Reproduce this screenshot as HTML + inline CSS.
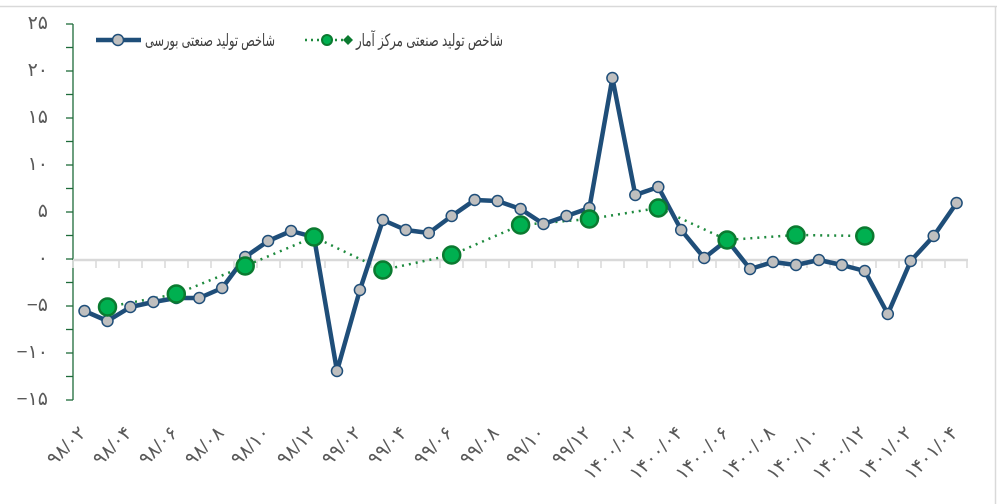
<!DOCTYPE html>
<html><head><meta charset="utf-8"><style>
html,body{margin:0;padding:0;background:#fff;}
svg{display:block;font-family:"Liberation Sans","DejaVu Sans",sans-serif;}
</style></head><body>
<svg width="997" height="504" viewBox="0 0 997 504" xmlns="http://www.w3.org/2000/svg">
<line x1="0" y1="6.5" x2="997" y2="6.5" stroke="#d9d9d9" stroke-width="1.5"/>
<line x1="995.5" y1="6" x2="995.5" y2="504" stroke="#d9d9d9" stroke-width="1.5"/>
<g stroke="#1e6b3a" stroke-width="1.3">
<line x1="73" y1="24" x2="73" y2="400"/>
<line x1="66" y1="24" x2="73" y2="24"/><line x1="66" y1="47.5" x2="73" y2="47.5"/>
<line x1="66" y1="71" x2="73" y2="71"/><line x1="66" y1="94.5" x2="73" y2="94.5"/>
<line x1="66" y1="118" x2="73" y2="118"/><line x1="66" y1="141.5" x2="73" y2="141.5"/>
<line x1="66" y1="165" x2="73" y2="165"/><line x1="66" y1="188.5" x2="73" y2="188.5"/>
<line x1="66" y1="212" x2="73" y2="212"/><line x1="66" y1="235.5" x2="73" y2="235.5"/>
<line x1="66" y1="259" x2="73" y2="259"/><line x1="66" y1="282.5" x2="73" y2="282.5"/>
<line x1="66" y1="306" x2="73" y2="306"/><line x1="66" y1="329.5" x2="73" y2="329.5"/>
<line x1="66" y1="353" x2="73" y2="353"/><line x1="66" y1="376.5" x2="73" y2="376.5"/>
<line x1="66" y1="400" x2="73" y2="400"/>
</g>
<g fill="#595959" font-size="19" text-anchor="end">
<text x="48" y="29">۲۵</text><text x="48" y="76">۲۰</text><text x="48" y="123">۱۵</text>
<text x="48" y="170">۱۰</text><text x="48" y="217">۵</text><text x="48" y="264">۰</text>
<text x="48" y="311">−۵</text><text x="48" y="358">−۱۰</text><text x="48" y="405">−۱۵</text>
</g>
<line x1="73" y1="260" x2="968" y2="260" stroke="#d9d9d9" stroke-width="2.5"/>
<g stroke="#d9d9d9" stroke-width="1.5">
<path d="M73 260v8M96 260v8M119 260v8M142 260v8M165 260v8M188 260v8M211 260v8M234 260v8M257 260v8M280 260v8M302 260v8M325 260v8M348 260v8M371 260v8M394 260v8M417 260v8M440 260v8M463 260v8M486 260v8M509 260v8M532 260v8M555 260v8M578 260v8M601 260v8M624 260v8M647 260v8M670 260v8M693 260v8M716 260v8M739 260v8M761 260v8M784 260v8M807 260v8M830 260v8M853 260v8M876 260v8M899 260v8M922 260v8M945 260v8M967 260v8"/>
</g>
<polyline fill="none" stroke="#1e8a3e" stroke-width="2.5" stroke-dasharray="2,5" points="107.5,307 176.3,294 245.2,266 314,237 382.9,270 451.7,255 520.6,225 589.4,219 658.3,208 727.1,240 796,235 864.8,236"/>
<polyline fill="none" stroke="#1f4e79" stroke-width="4.5" stroke-linejoin="round" points="84.5,311 107.5,321 130.4,307 153.4,302 176.3,298 199.3,298 222.2,288 245.2,257 268.1,241 291.1,231 314,237 337,371 359.9,290 382.9,220 405.8,230 428.8,233 451.7,216 474.7,200 497.6,201 520.6,209 543.5,224 566.5,216 589.4,208 612.4,78 635.3,195 658.3,187 681.2,230 704.2,258 727.1,240 750.1,269 773,262 796,265 818.9,260 841.9,265 864.8,271 887.8,314 910.7,261 933.7,236 956.6,203"/>
<g fill="#bfbfbf" stroke="#1f4e79" stroke-width="1.5">
<circle cx="84.5" cy="311" r="5.5"/><circle cx="107.5" cy="321" r="5.5"/><circle cx="130.4" cy="307" r="5.5"/><circle cx="153.4" cy="302" r="5.5"/><circle cx="176.3" cy="298" r="5.5"/><circle cx="199.3" cy="298" r="5.5"/><circle cx="222.2" cy="288" r="5.5"/><circle cx="245.2" cy="257" r="5.5"/><circle cx="268.1" cy="241" r="5.5"/><circle cx="291.1" cy="231" r="5.5"/><circle cx="314" cy="237" r="5.5"/><circle cx="337" cy="371" r="5.5"/><circle cx="359.9" cy="290" r="5.5"/><circle cx="382.9" cy="220" r="5.5"/><circle cx="405.8" cy="230" r="5.5"/><circle cx="428.8" cy="233" r="5.5"/><circle cx="451.7" cy="216" r="5.5"/><circle cx="474.7" cy="200" r="5.5"/><circle cx="497.6" cy="201" r="5.5"/><circle cx="520.6" cy="209" r="5.5"/><circle cx="543.5" cy="224" r="5.5"/><circle cx="566.5" cy="216" r="5.5"/><circle cx="589.4" cy="208" r="5.5"/><circle cx="612.4" cy="78" r="5.5"/><circle cx="635.3" cy="195" r="5.5"/><circle cx="658.3" cy="187" r="5.5"/><circle cx="681.2" cy="230" r="5.5"/><circle cx="704.2" cy="258" r="5.5"/><circle cx="727.1" cy="240" r="5.5"/><circle cx="750.1" cy="269" r="5.5"/><circle cx="773" cy="262" r="5.5"/><circle cx="796" cy="265" r="5.5"/><circle cx="818.9" cy="260" r="5.5"/><circle cx="841.9" cy="265" r="5.5"/><circle cx="864.8" cy="271" r="5.5"/><circle cx="887.8" cy="314" r="5.5"/><circle cx="910.7" cy="261" r="5.5"/><circle cx="933.7" cy="236" r="5.5"/><circle cx="956.6" cy="203" r="5.5"/>
</g>
<g fill="#00b050" stroke="#0b7a30" stroke-width="2.5">
<circle cx="107.5" cy="307" r="8.5"/><circle cx="176.3" cy="294" r="8.5"/><circle cx="245.2" cy="266" r="8.5"/><circle cx="314" cy="237" r="8.5"/><circle cx="382.9" cy="270" r="8.5"/><circle cx="451.7" cy="255" r="8.5"/><circle cx="520.6" cy="225" r="8.5"/><circle cx="589.4" cy="219" r="8.5"/><circle cx="658.3" cy="208" r="8.5"/><circle cx="727.1" cy="240" r="8.5"/><circle cx="796" cy="235" r="8.5"/><circle cx="864.8" cy="236" r="8.5"/>
</g>
<line x1="96" y1="40" x2="141" y2="40" stroke="#1f4e79" stroke-width="4.5"/>
<circle cx="118" cy="40" r="5.5" fill="#bfbfbf" stroke="#1f4e79" stroke-width="1.5"/>
<text x="145" y="46" font-size="17" fill="#404040" textLength="130" lengthAdjust="spacingAndGlyphs">شاخص تولید صنعتی بورسی</text>
<line x1="305" y1="40" x2="352" y2="40" stroke="#1e8a3e" stroke-width="2.5" stroke-dasharray="2,4"/>
<circle cx="327" cy="40" r="5" fill="#00b050" stroke="#0b7a30" stroke-width="2"/>
<path d="M348 35l5 5l-5 5l-5 -5z" fill="#0b7a30"/>
<text x="356" y="46" font-size="17" fill="#404040" textLength="147" lengthAdjust="spacingAndGlyphs">شاخص تولید صنعتی مرکز آمار</text>
<g fill="#595959" font-size="19" text-anchor="end">
<text transform="translate(87,434) rotate(-45)">۹۸/۰۲</text>
<text transform="translate(133,434) rotate(-45)">۹۸/۰۴</text>
<text transform="translate(179,434) rotate(-45)">۹۸/۰۶</text>
<text transform="translate(225,434) rotate(-45)">۹۸/۰۸</text>
<text transform="translate(271,434) rotate(-45)">۹۸/۱۰</text>
<text transform="translate(317,434) rotate(-45)">۹۸/۱۲</text>
<text transform="translate(362,434) rotate(-45)">۹۹/۰۲</text>
<text transform="translate(408,434) rotate(-45)">۹۹/۰۴</text>
<text transform="translate(454,434) rotate(-45)">۹۹/۰۶</text>
<text transform="translate(500,434) rotate(-45)">۹۹/۰۸</text>
<text transform="translate(546,434) rotate(-45)">۹۹/۱۰</text>
<text transform="translate(592,434) rotate(-45)">۹۹/۱۲</text>
<text transform="translate(638,434) rotate(-45)">۱۴۰۰/۰۲</text>
<text transform="translate(684,434) rotate(-45)">۱۴۰۰/۰۴</text>
<text transform="translate(730,434) rotate(-45)">۱۴۰۰/۰۶</text>
<text transform="translate(776,434) rotate(-45)">۱۴۰۰/۰۸</text>
<text transform="translate(821,434) rotate(-45)">۱۴۰۰/۱۰</text>
<text transform="translate(867,434) rotate(-45)">۱۴۰۰/۱۲</text>
<text transform="translate(913,434) rotate(-45)">۱۴۰۱/۰۲</text>
<text transform="translate(959,434) rotate(-45)">۱۴۰۱/۰۴</text>
</g>
</svg>
</body></html>
